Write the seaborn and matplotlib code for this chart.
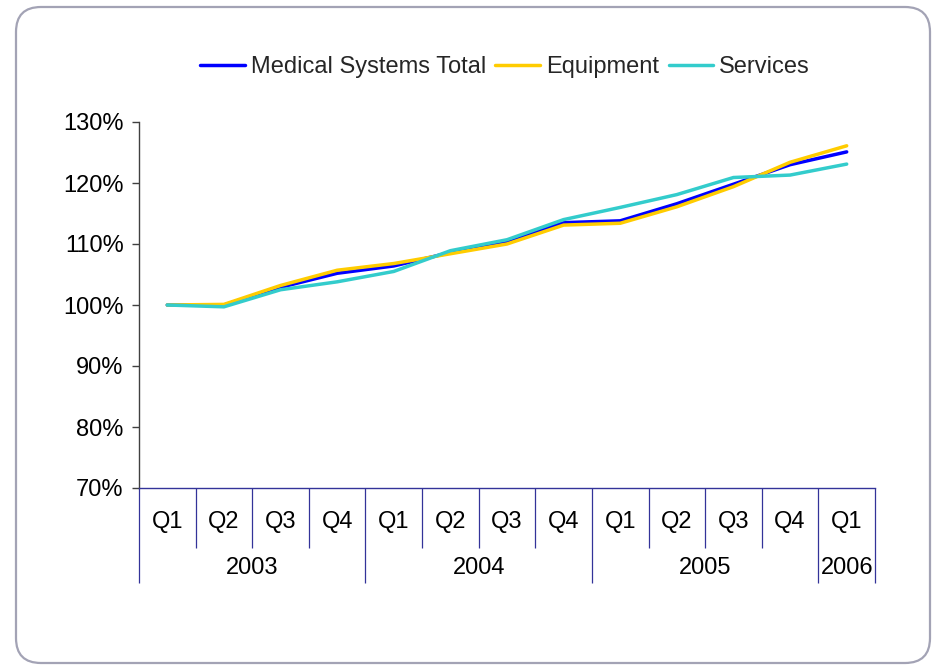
import matplotlib
matplotlib.use("Agg")
import matplotlib.pyplot as plt
import matplotlib.transforms as mtransforms
from matplotlib.patches import FancyBboxPatch
from matplotlib.ticker import FuncFormatter
import numpy as np
import pandas as pd
import seaborn as sns

# Quarterly index (Q1 2003 = 100%)
quarters = ["Q1", "Q2", "Q3", "Q4", "Q1", "Q2", "Q3", "Q4", "Q1", "Q2", "Q3", "Q4", "Q1"]
years = ["2003", "2004", "2005", "2006"]
quarters_per_year = [4, 4, 4, 1]
series_names = ["Medical Systems Total", "Equipment", "Services"]
total = [100.0, 100.0, 102.9, 105.2, 106.4, 108.6, 110.4, 113.5, 113.8, 116.6, 119.8, 123.0, 125.1]
equipment = [100.0, 100.1, 103.2, 105.7, 106.8, 108.4, 110.0, 113.1, 113.4, 116.1, 119.4, 123.4, 126.1]
services = [100.0, 99.7, 102.5, 103.8, 105.5, 108.9, 110.7, 114.0, 116.0, 118.1, 120.9, 121.3, 123.1]
yticks = [70, 80, 90, 100, 110, 120, 130]
colors = ["#0000FF", "#FFCC00", "#33CCCC"]

n = len(quarters)
df = pd.DataFrame({
    "period": list(range(n)) * 3,
    "value": total + equipment + services,
    "series": np.repeat(series_names, n),
})

sns.set_theme(style="white")
plt.rcParams["font.family"] = ["Liberation Sans", "DejaVu Sans"]
FS = 17

fig = plt.figure(figsize=(9.35, 6.66), dpi=100)
ax = fig.add_axes([139 / 935, 1 - 488 / 666, (875 - 139) / 935, (488 - 122) / 666])

sns.lineplot(data=df, x="period", y="value", hue="series", hue_order=series_names,
             palette=colors, linewidth=2.5, ax=ax, legend=False)

# Two-level category axis: quarters, then years, with divider lines
trans = mtransforms.blended_transform_factory(ax.transData, ax.transAxes)
axis_blue = "#333399"
q_row = -0.093
y_row = -0.219
q_bottom = -0.164
y_bottom = -0.26

for i, q in enumerate(quarters):
    ax.text(i, q_row, q, transform=trans, ha="center", va="center", fontsize=FS, color="black")

start = 0
year_edges = [-0.5]
for yr, cnt in zip(years, quarters_per_year):
    center = start + (cnt - 1) / 2
    ax.text(center, y_row, yr, transform=trans, ha="center", va="center", fontsize=FS, color="black")
    start += cnt
    year_edges.append(start - 0.5)

quarter_edges = [b for b in np.arange(0.5, n - 0.5, 1.0) if b not in year_edges]
ax.vlines(quarter_edges, q_bottom, 0, transform=trans, colors=axis_blue, linewidth=0.9, clip_on=False)
ax.vlines(year_edges, y_bottom, 0, transform=trans, colors=axis_blue, linewidth=0.9, clip_on=False)

ax.set_xlim(-0.5, n - 0.5)
ax.set_ylim(70, 130)
ax.set_xticks([])
ax.set_yticks(yticks)
ax.yaxis.set_major_formatter(FuncFormatter(lambda v, _: f"{v:.0f}%"))
ax.set_xlabel("")
ax.set_ylabel("")

for side in ("top", "right"):
    ax.spines[side].set_visible(False)
ax.spines["left"].set_color("#404040")
ax.spines["left"].set_linewidth(1.0)
ax.spines["bottom"].set_color(axis_blue)
ax.spines["bottom"].set_linewidth(1.0)
ax.tick_params(axis="y", left=True, direction="out", length=5, width=1.0,
               color="#404040", labelsize=FS, labelcolor="black", pad=6)

fig.legend(handles=ax.get_lines()[:3], labels=series_names, loc="center",
           bbox_to_anchor=(505 / 935, 1 - 67 / 666), ncol=3, frameon=False,
           fontsize=FS, handlelength=1.9, handletextpad=0.25, columnspacing=0.4)

# Rounded outer frame
fig.patches.append(FancyBboxPatch((0.16, 0.03), 9.14, 6.56,
                                  boxstyle="round,pad=0,rounding_size=0.25",
                                  transform=fig.dpi_scale_trans, fill=False,
                                  edgecolor="#A3A3B5", linewidth=1.6))

fig.savefig("out.png", dpi=100)
